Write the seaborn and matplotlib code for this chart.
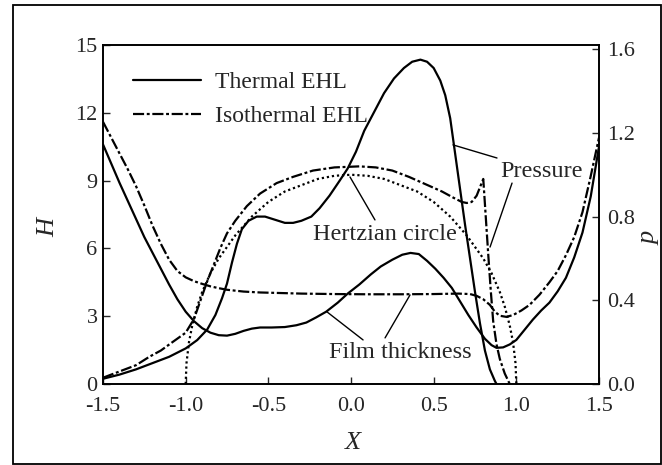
import matplotlib
matplotlib.use("Agg")
import matplotlib.pyplot as plt
from matplotlib.lines import Line2D
from matplotlib.patches import Rectangle
import seaborn as sns

sns.set_style("ticks")
plt.rcParams["font.family"] = ["Liberation Serif", "DejaVu Serif"]

# ---- film thickness H(X) ----
x_film_thermal = [-1.50, -1.45, -1.40, -1.35, -1.30, -1.25, -1.20, -1.15, -1.10, -1.05,
                  -1.00, -0.95, -0.90, -0.85, -0.80, -0.75, -0.70, -0.65, -0.60, -0.55,
                  -0.48, -0.40, -0.33, -0.27, -0.21, -0.15, -0.08, -0.02, 0.05, 0.12,
                  0.18, 0.25, 0.31, 0.36, 0.41, 0.46, 0.51, 0.56, 0.61, 0.66,
                  0.71, 0.76, 0.81, 0.85, 0.88, 0.92, 0.96, 1.00, 1.05, 1.10,
                  1.15, 1.20, 1.25, 1.30, 1.35, 1.40, 1.45, 1.50]
h_film_thermal = [10.6, 9.75, 8.9, 8.1, 7.3, 6.5, 5.8, 5.1, 4.4, 3.75,
                  3.2, 2.78, 2.47, 2.27, 2.16, 2.14, 2.22, 2.35, 2.45, 2.50,
                  2.50, 2.52, 2.60, 2.72, 2.95, 3.2, 3.6, 4.0, 4.4, 4.85,
                  5.2, 5.5, 5.72, 5.8, 5.75, 5.45, 5.1, 4.7, 4.25, 3.65,
                  3.05, 2.5, 2.0, 1.72, 1.6, 1.62, 1.75, 1.95, 2.4, 2.85,
                  3.25, 3.6, 4.1, 4.7, 5.6, 6.7, 8.3, 10.5]

x_film_iso = [-1.50, -1.45, -1.40, -1.35, -1.30, -1.25, -1.20, -1.15, -1.10, -1.05,
              -1.00, -0.95, -0.90, -0.85, -0.80, -0.75, -0.65, -0.55, -0.45, -0.30,
              -0.10, 0.10, 0.30, 0.50, 0.65, 0.72, 0.76, 0.80, 0.84, 0.87,
              0.90, 0.94, 0.98, 1.03, 1.08, 1.14, 1.20, 1.25, 1.30, 1.35,
              1.40, 1.45, 1.50]
h_film_iso = [11.6, 10.9, 10.2, 9.5, 8.75, 7.9, 7.0, 6.2, 5.5, 5.0,
              4.72, 4.55, 4.43, 4.32, 4.24, 4.17, 4.09, 4.05, 4.03, 4.0,
              3.98, 3.97, 3.97, 3.98, 4.0, 3.98, 3.9, 3.75, 3.5, 3.2,
              3.02, 2.97, 3.05, 3.25, 3.5, 3.95, 4.5, 5.0, 5.7, 6.5,
              7.6, 9.2, 10.9]

# ---- pressure p(X) ----
x_pres_thermal = [-1.50, -1.40, -1.30, -1.20, -1.10, -1.00, -0.93, -0.87, -0.82, -0.78,
                  -0.75, -0.72, -0.69, -0.66, -0.62, -0.57, -0.52, -0.46, -0.40, -0.35,
                  -0.30, -0.24, -0.19, -0.13, -0.07, -0.02, 0.03, 0.08, 0.14, 0.20,
                  0.26, 0.32, 0.37, 0.42, 0.46, 0.50, 0.54, 0.57, 0.60, 0.63,
                  0.66, 0.69, 0.72, 0.75, 0.78, 0.81, 0.84, 0.87, 0.88]
p_pres_thermal = [0.025, 0.045, 0.07, 0.10, 0.13, 0.17, 0.21, 0.26, 0.33, 0.41,
                  0.48, 0.58, 0.67, 0.74, 0.78, 0.80, 0.80, 0.785, 0.77, 0.77,
                  0.78, 0.80, 0.84, 0.90, 0.97, 1.03, 1.11, 1.21, 1.30, 1.39,
                  1.46, 1.51, 1.54, 1.55, 1.54, 1.51, 1.45, 1.38, 1.27, 1.10,
                  0.93, 0.76, 0.60, 0.44, 0.29, 0.16, 0.07, 0.015, 0.0]

x_pres_iso = [-1.50, -1.40, -1.30, -1.22, -1.15, -1.08, -1.00, -0.95, -0.91, -0.87,
              -0.83, -0.79, -0.75, -0.70, -0.63, -0.55, -0.45, -0.35, -0.23, -0.10,
              0.05, 0.15, 0.25, 0.35, 0.45, 0.55, 0.62, 0.67, 0.70, 0.73,
              0.76, 0.78, 0.80, 0.815, 0.83, 0.845, 0.86, 0.88, 0.90, 0.93,
              0.96]
p_pres_iso = [0.03, 0.06, 0.09, 0.13, 0.16, 0.20, 0.245, 0.31, 0.40, 0.49,
              0.57, 0.65, 0.72, 0.78, 0.85, 0.91, 0.96, 0.99, 1.02, 1.035,
              1.04, 1.035, 1.02, 0.99, 0.955, 0.92, 0.89, 0.87, 0.865, 0.87,
              0.90, 0.94, 0.98, 0.80, 0.62, 0.45, 0.30, 0.19, 0.12, 0.05,
              0.0]

x_hertz = [-1.00, -0.995, -0.98, -0.96, -0.93, -0.90, -0.85, -0.80, -0.70, -0.60,
           -0.50, -0.40, -0.30, -0.20, -0.10, 0.00, 0.10, 0.20, 0.30, 0.40,
           0.50, 0.60, 0.70, 0.80, 0.85, 0.90, 0.93, 0.96, 0.98, 0.995, 1.00]
p_hertz = [0.0, 0.10, 0.20, 0.28, 0.37, 0.44, 0.53, 0.60, 0.71, 0.80,
           0.87, 0.92, 0.95, 0.98, 0.995, 1.00, 0.995, 0.98, 0.95, 0.92,
           0.87, 0.80, 0.71, 0.60, 0.53, 0.44, 0.37, 0.28, 0.20, 0.10, 0.0]

x_ticks = [-1.5, -1.0, -0.5, 0.0, 0.5, 1.0, 1.5]
x_tick_labels = ["-1.5", "-1.0", "-0.5", "0.0", "0.5", "1.0", "1.5"]
h_ticks = [0, 3, 6, 9, 12, 15]
p_ticks = [0.0, 0.4, 0.8, 1.2, 1.6]
p_tick_labels = ["0.0", "0.4", "0.8", "1.2", "1.6"]

W, H = 662, 465
fig = plt.figure(figsize=(W / 100, H / 100), dpi=100)
fig.patch.set_facecolor("white")
ax = fig.add_axes([103 / W, 1 - 384 / H, 496 / W, 339 / H])
ax2 = ax.twinx()

solid = "-"
iso_style = (0, (5, 1.2, 1.3, 1.2))
dot_style = (0, (1.0, 1.3))
lw = 1.6

sns.lineplot(x=x_film_thermal, y=h_film_thermal, ax=ax, color="black", lw=lw,
             linestyle=solid, estimator=None, sort=False)
sns.lineplot(x=x_film_iso, y=h_film_iso, ax=ax, color="black", lw=lw,
             linestyle=iso_style, estimator=None, sort=False)
sns.lineplot(x=x_pres_thermal, y=p_pres_thermal, ax=ax2, color="black", lw=lw,
             linestyle=solid, estimator=None, sort=False)
sns.lineplot(x=x_pres_iso, y=p_pres_iso, ax=ax2, color="black", lw=lw,
             linestyle=iso_style, estimator=None, sort=False)
sns.lineplot(x=x_hertz, y=p_hertz, ax=ax2, color="black", lw=lw,
             linestyle=dot_style, estimator=None, sort=False)

ax.set_xlim(-1.5, 1.5)
ax.set_ylim(0, 15)
ax2.set_ylim(0, 1.62)

ax.set_xticks(x_ticks)
ax.set_xticklabels(x_tick_labels)
ax.set_yticks(h_ticks)
ax2.set_yticks(p_ticks)
ax2.set_yticklabels(p_tick_labels)

ax.tick_params(axis="both", direction="in", length=5, width=1.0, labelsize=16,
               top=False, right=False)
ax.tick_params(axis="y", pad=4)
ax.tick_params(axis="x", pad=9)
ax2.tick_params(axis="y", direction="in", length=5, width=1.0, labelsize=16, pad=6)
for a in (ax, ax2):
    for s in a.spines.values():
        s.set_visible(True)
        s.set_linewidth(1.2)
        s.set_color("black")
ax.set_xlabel("")
ax.set_ylabel("")
ax2.set_ylabel("")

# axis titles
fig.text(48 / W, 1 - 227 / H, "H", fontsize=19, style="italic", rotation=90,
         ha="center", va="center")
fig.text(650 / W, 1 - 238 / H, "p", fontsize=19, style="italic", rotation=90,
         ha="center", va="center")
fig.text(353 / W, 1 - 443 / H, "X", fontsize=19, style="italic",
         ha="center", va="center")

# legend
handles = [Line2D([], [], color="black", lw=lw, linestyle=solid),
           Line2D([], [], color="black", lw=lw, linestyle=iso_style)]
ax.legend(handles, ["Thermal EHL", "Isothermal EHL"], loc="upper left",
          bbox_to_anchor=(0.06, 0.922), frameon=False, fontsize=17,
          handlelength=2.9, handletextpad=0.6, labelspacing=0.55,
          borderpad=0, borderaxespad=0)

# annotations with leader lines
lead = dict(arrowstyle="-", color="black", lw=1.0, shrinkA=0, shrinkB=0)
fs = 17.5
ax.text(0.90, 9.16, "Pressure", fontsize=fs, ha="left", va="baseline")
ax.annotate("", xy=(0.617, 10.58), xytext=(0.883, 10.0), arrowprops=lead)
ax.annotate("", xy=(0.841, 6.06), xytext=(0.974, 8.89), arrowprops=lead)

ax.text(-0.23, 6.37, "Hertzian circle", fontsize=fs, ha="left", va="baseline")
ax.annotate("", xy=(-0.006, 9.16), xytext=(0.145, 7.26), arrowprops=lead)

ax.text(-0.133, 1.15, "Film thickness", fontsize=fs, ha="left", va="baseline")
ax.annotate("", xy=(-0.145, 3.19), xytext=(0.073, 1.95), arrowprops=lead)
ax.annotate("", xy=(0.357, 3.94), xytext=(0.206, 2.04), arrowprops=lead)

# outer frame around the figure
fig.patches.append(Rectangle((13 / W, 1 / H), 648 / W, 459 / H,
                             transform=fig.transFigure, fill=False,
                             edgecolor="black", lw=1.3))

fig.savefig("out.png", dpi=100)
